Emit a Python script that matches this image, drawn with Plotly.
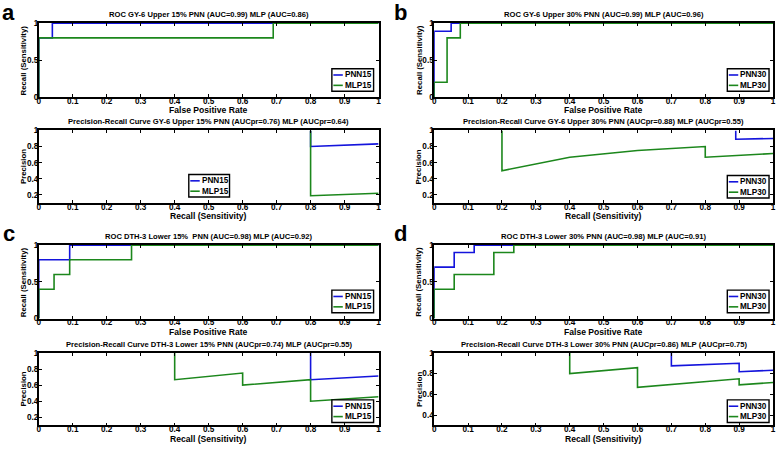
import plotly.graph_objects as go

W, H = 778, 450

# ---------------- data ----------------
# Panel a (GY-6 Upper 15%)
a_roc_pnn_x = [0, 0, 0.04, 0.04, 1]
a_roc_pnn_y = [0, 0.8, 0.8, 1, 1]
a_roc_mlp_x = [0, 0, 0.69, 0.69, 1]
a_roc_mlp_y = [0, 0.8, 0.8, 1, 1]
a_pr_pnn_x = [0.8, 0.8, 1]
a_pr_pnn_y = [1, 0.8, 0.833]
a_pr_mlp_x = [0.8, 0.8, 1]
a_pr_mlp_y = [1, 0.19, 0.22]

# Panel b (GY-6 Upper 30%)
b_roc_pnn_x = [0, 0, 0.05, 0.05, 1]
b_roc_pnn_y = [0, 0.89, 0.89, 1, 1]
b_roc_mlp_x = [0, 0, 0.038, 0.038, 0.077, 0.077, 1]
b_roc_mlp_y = [0, 0.2, 0.2, 0.8, 0.8, 1, 1]
b_pr_pnn_x = [0.89, 0.89, 1]
b_pr_pnn_y = [1, 0.89, 0.9]
b_pr_mlp_x = [0.2, 0.2, 0.4, 0.6, 0.8, 0.8, 1]
b_pr_mlp_y = [1, 0.5, 0.667, 0.75, 0.8, 0.667, 0.714]

# Panel c (DTH-3 Lower 15%)
c_roc_pnn_x = [0, 0, 0.091, 0.091, 1]
c_roc_pnn_y = [0, 0.8, 0.8, 1, 1]
c_roc_mlp_x = [0, 0, 0.045, 0.045, 0.091, 0.091, 0.273, 0.273, 1]
c_roc_mlp_y = [0, 0.4, 0.4, 0.6, 0.6, 0.8, 0.8, 1, 1]
c_pr_pnn_x = [0.8, 0.8, 1]
c_pr_pnn_y = [1, 0.667, 0.714]
c_pr_mlp_x = [0.4, 0.4, 0.6, 0.6, 0.8, 0.8, 1]
c_pr_mlp_y = [1, 0.667, 0.75, 0.6, 0.667, 0.4, 0.455]

# Panel d (DTH-3 Lower 30%)
d_roc_pnn_x = [0, 0, 0.059, 0.059, 0.118, 0.118, 1]
d_roc_pnn_y = [0, 0.7, 0.7, 0.9, 0.9, 1, 1]
d_roc_mlp_x = [0, 0, 0.059, 0.059, 0.176, 0.176, 0.235, 0.235, 1]
d_roc_mlp_y = [0, 0.4, 0.4, 0.6, 0.6, 0.9, 0.9, 1, 1]
d_pr_pnn_x = [0.7, 0.7, 0.9, 0.9, 1]
d_pr_pnn_y = [1, 0.875, 0.9, 0.818, 0.833]
d_pr_mlp_x = [0.4, 0.4, 0.6, 0.6, 0.9, 0.9, 1]
d_pr_mlp_y = [1, 0.8, 0.857, 0.667, 0.75, 0.692, 0.714]

titles = [
    "ROC GY-6 Upper 15% PNN (AUC=0.99) MLP (AUC=0.86)",
    "Precision-Recall Curve GY-6 Upper 15% PNN (AUCpr=0.76) MLP (AUCpr=0.64)",
    "ROC GY-6 Upper 30% PNN (AUC=0.99) MLP (AUC=0.96)",
    "Precision-Recall Curve GY-6 Upper 30% PNN (AUCpr=0.88) MLP (AUCpr=0.55)",
    "ROC DTH-3 Lower 15%  PNN (AUC=0.98) MLP (AUC=0.92)",
    "Precision-Recall Curve DTH-3 Lower 15% PNN (AUCpr=0.74) MLP (AUCpr=0.55)",
    "ROC DTH-3 Lower 30% PNN (AUC=0.98) MLP (AUC=0.91)",
    "Precision-Recall Curve DTH-3 Lower 30% PNN (AUCpr=0.86) MLP (AUCpr=0.75)",
]
panel_letters = ["a", "b", "c", "d"]
x_ticks = [0, 0.1, 0.2, 0.3, 0.4, 0.5, 0.6, 0.7, 0.8, 0.9, 1]
x_tick_labels = ["0", "0.1", "0.2", "0.3", "0.4", "0.5", "0.6", "0.7", "0.8", "0.9", "1"]
roc_y_ticks = [0, 0.5, 1]
roc_y_labels = ["0", "0.5", "1"]
pr_y_ticks = [0.2, 0.4, 0.6, 0.8, 1]
pr_y_labels = ["0.2", "0.4", "0.6", "0.8", "1"]
prd_y_ticks = [0.4, 0.6, 0.8, 1]
prd_y_labels = ["0.4", "0.6", "0.8", "1"]

BLUE = "#1414dc"
GREEN = "#1c871c"
FONT = "Liberation Sans"
FS_TITLE = 7.6
FS_TICK = 8.2
FS_XLAB = 8.6
FS_YLAB = 7.8
FS_LEG = 8.2

# ---------------- layout geometry (pixels) ----------------
cols = [(37, 379), (435, 776)]
rows = [(19.5, 95), (129, 203), (246, 321), (356, 430)]

# subplot specs: (col, row, kind, pnn, mlp, names, yrange, yticks, ylabels, legend box)
subplots = [
    (0, 0, "roc", (a_roc_pnn_x, a_roc_pnn_y), (a_roc_mlp_x, a_roc_mlp_y), ("PNN15", "MLP15"), [0, 1], roc_y_ticks, roc_y_labels, (332, 66, 374, 89)),
    (0, 1, "pr", (a_pr_pnn_x, a_pr_pnn_y), (a_pr_mlp_x, a_pr_mlp_y), ("PNN15", "MLP15"), [0.1, 1], pr_y_ticks, pr_y_labels, (188, 174, 229, 197)),
    (1, 0, "roc", (b_roc_pnn_x, b_roc_pnn_y), (b_roc_mlp_x, b_roc_mlp_y), ("PNN30", "MLP30"), [0, 1], roc_y_ticks, roc_y_labels, (730, 66, 772, 89)),
    (1, 1, "pr", (b_pr_pnn_x, b_pr_pnn_y), (b_pr_mlp_x, b_pr_mlp_y), ("PNN30", "MLP30"), [0.1, 1], pr_y_ticks, pr_y_labels, (730, 175, 772, 198)),
    (0, 2, "roc", (c_roc_pnn_x, c_roc_pnn_y), (c_roc_mlp_x, c_roc_mlp_y), ("PNN15", "MLP15"), [0, 1], roc_y_ticks, roc_y_labels, (332, 292, 374, 315)),
    (0, 3, "pr", (c_pr_pnn_x, c_pr_pnn_y), (c_pr_mlp_x, c_pr_mlp_y), ("PNN15", "MLP15"), [0.1, 1], pr_y_ticks, pr_y_labels, (332, 404, 374, 427)),
    (1, 2, "roc", (d_roc_pnn_x, d_roc_pnn_y), (d_roc_mlp_x, d_roc_mlp_y), ("PNN30", "MLP30"), [0, 1], roc_y_ticks, roc_y_labels, (730, 292, 772, 315)),
    (1, 3, "pr", (d_pr_pnn_x, d_pr_pnn_y), (d_pr_mlp_x, d_pr_mlp_y), ("PNN30", "MLP30"), [0.3, 1], prd_y_ticks, prd_y_labels, (730, 404, 772, 427)),
]


def px(x):
    return x / W


def py(y):
    return 1 - y / H


fig = go.Figure()
annotations = []
shapes = []
layout = {}

for i, (c, r, kind, pnn, mlp, names, yr, yt, yl, lb) in enumerate(subplots):
    n = i + 1
    xa = "xaxis" if n == 1 else f"xaxis{n}"
    ya = "yaxis" if n == 1 else f"yaxis{n}"
    xr_ = "x" if n == 1 else f"x{n}"
    yr_ = "y" if n == 1 else f"y{n}"
    x0, x1 = cols[c]
    t0, t1 = rows[r]
    common = dict(
        showgrid=False, zeroline=False, showline=True, linecolor="black", linewidth=1.6,
        mirror="ticks", ticks="inside", ticklen=3, tickwidth=1, tickcolor="black",
        tickfont=dict(family=FONT, size=FS_TICK, color="black", weight="bold"),
    )
    layout[xa] = dict(domain=[px(x0), px(x1)], range=[0, 1], anchor=yr_,
                      tickvals=x_ticks, ticktext=x_tick_labels, ticklabelstandoff=-5, **common)
    layout[ya] = dict(domain=[py(t1), py(t0)], range=yr, anchor=xr_,
                      tickvals=yt, ticktext=yl, ticklabelstandoff=-3, **common)

    fig.add_trace(go.Scatter(x=pnn[0], y=pnn[1], mode="lines", name=names[0],
                             line=dict(color=BLUE, width=1.6), xaxis=xr_, yaxis=yr_,
                             showlegend=False, cliponaxis=True))
    fig.add_trace(go.Scatter(x=mlp[0], y=mlp[1], mode="lines", name=names[1],
                             line=dict(color=GREEN, width=1.6), xaxis=xr_, yaxis=yr_,
                             showlegend=False, cliponaxis=True))

    # title
    annotations.append(dict(text=f"<b>{titles[i]}</b>", x=px((x0 + x1) / 2), y=py(t0 - 9),
                            xref="paper", yref="paper", xanchor="center", yanchor="middle",
                            showarrow=False, font=dict(family=FONT, size=FS_TITLE, color="black")))
    # x title
    xt = "False Positive Rate" if kind == "roc" else "Recall (Sensitivity)"
    annotations.append(dict(text=f"<b>{xt}</b>", x=px((x0 + x1) / 2), y=py(t1 + 13.5),
                            xref="paper", yref="paper", xanchor="center", yanchor="middle",
                            showarrow=False, font=dict(family=FONT, size=FS_XLAB, color="black")))
    # y title
    ytxt = "Recall (Sensitivity)" if kind == "roc" else "Precision"
    annotations.append(dict(text=f"<b>{ytxt}</b>", x=px(x0 - 15.5), y=py((t0 + t1) / 2),
                            xref="paper", yref="paper", xanchor="center", yanchor="middle",
                            textangle=-90, showarrow=False,
                            font=dict(family=FONT, size=FS_YLAB, color="black")))
    # legend box (drawn manually to match the compact MATLAB legend)
    lx0, ly0, lx1, ly1 = lb
    shapes.append(dict(type="rect", xref="paper", yref="paper",
                       x0=px(lx0), x1=px(lx1), y0=py(ly1), y1=py(ly0),
                       line=dict(color="black", width=1.4), fillcolor="white", layer="above"))
    for k, (nm, col) in enumerate(zip(names, [BLUE, GREEN])):
        yy = ly0 + (ly1 - ly0) * (0.28 + 0.46 * k)
        shapes.append(dict(type="line", xref="paper", yref="paper",
                           x0=px(lx0 + 1.5), x1=px(lx0 + 11), y0=py(yy), y1=py(yy),
                           line=dict(color=col, width=1.6), layer="above"))
        annotations.append(dict(text=f"<b>{nm}</b>", x=px(lx0 + 11), y=py(yy),
                                xref="paper", yref="paper", xanchor="left", yanchor="middle",
                                showarrow=False, font=dict(family=FONT, size=FS_LEG, color="black")))

# panel letters
letter_pos = [(-2, -6), (393, -6), (-1, 219), (393, 219)]
for (lx, ly), lt in zip(letter_pos, panel_letters):
    annotations.append(dict(text=f"<b>{lt}</b>", x=px(lx), y=py(ly), xref="paper", yref="paper",
                            xanchor="left", yanchor="top", showarrow=False,
                            font=dict(family=FONT, size=22, color="black")))

fig.update_layout(
    width=W, height=H, margin=dict(l=0, r=0, t=0, b=0),
    paper_bgcolor="white", plot_bgcolor="white",
    showlegend=False, annotations=annotations, shapes=shapes, **layout,
)

fig.write_html(
    "out.html",
    config={"displayModeBar": False},
    post_script="document.body.style.margin='0';document.body.style.overflow='hidden';",
)
